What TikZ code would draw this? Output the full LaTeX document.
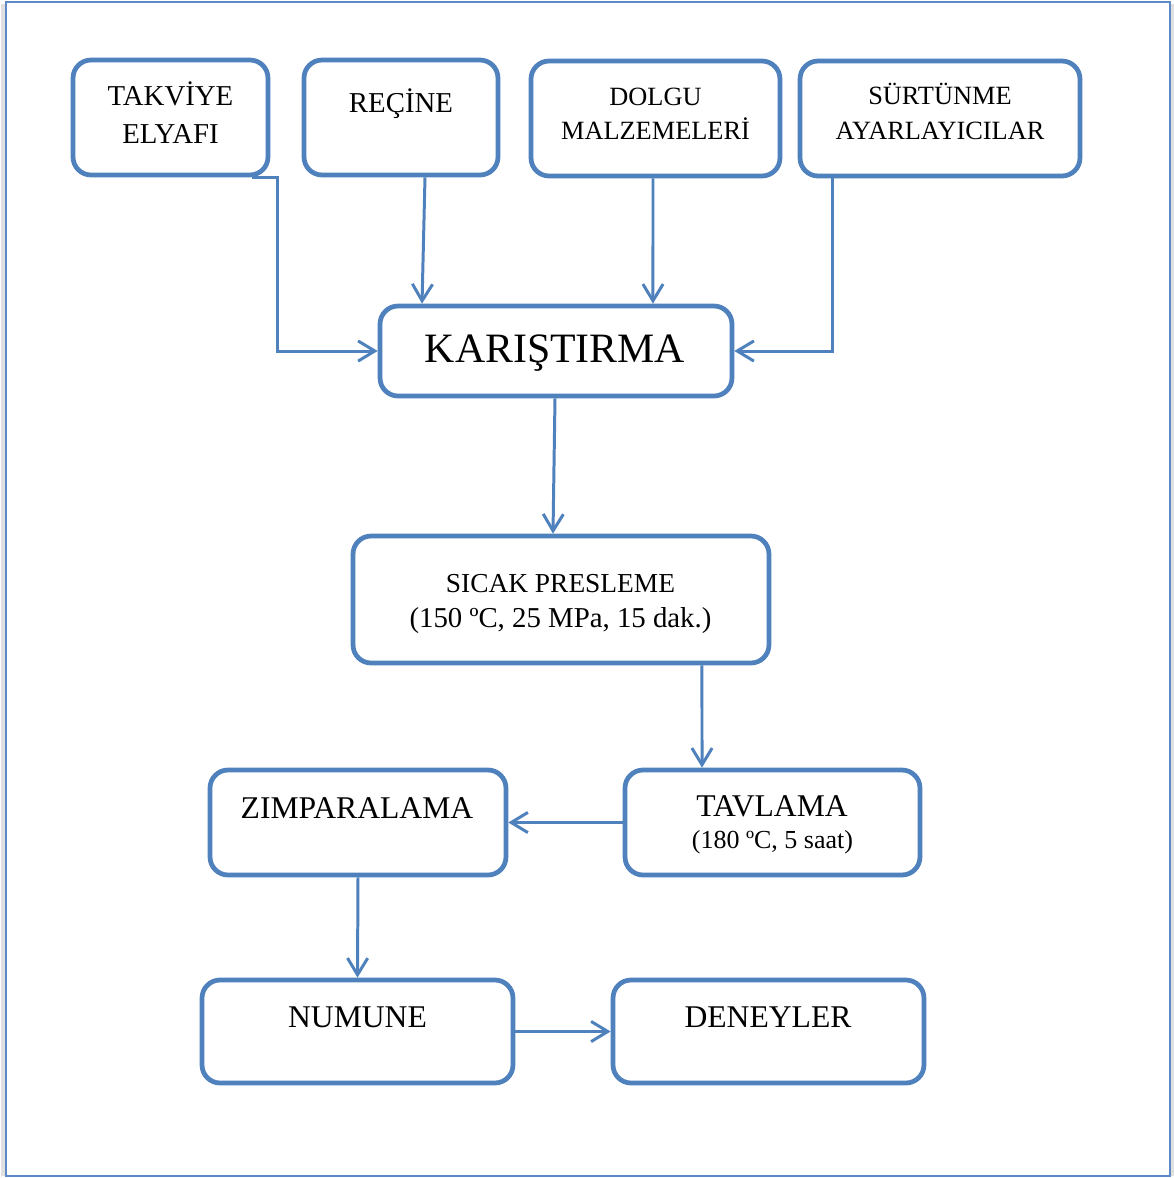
\documentclass[tikz,border=0pt]{standalone}
\usepackage{fontspec}
\setmainfont{Liberation Serif}
\usetikzlibrary{arrows.meta}
\definecolor{ofblue}{HTML}{4F81BD}
\definecolor{frameblue}{HTML}{5B8AC6}
\tikzset{
  procbox/.style={draw=ofblue, line width=2.7pt, rounded corners=0.36cm, fill=white, inner sep=0pt},
  conn/.style={draw=ofblue, line width=1.7pt, -{Straight Barb[length=9.5pt,width=11.5pt,line width=1.7pt]}},
  lbl/.style={anchor=base, inner sep=0pt, text=black},
}
\begin{document}
\begin{tikzpicture}[x=0.02cm,y=-0.02cm]
\useasboundingbox (0,0) rectangle (1174,1178);
\fill[white] (0,0) rectangle (1174,1178);
% frame with faint shadow
\draw[black!12, line width=2.2pt] (3,4) -- (3,1176);
\draw[black!12, line width=2.2pt] (1172,4) -- (1172,1176);
\draw[frameblue, line width=1.2pt] (6,2) rectangle (1170,1176);

% boxes
\node[procbox, minimum width=3.9cm,  minimum height=2.3cm] (A) at (170.5,117.5) {};
\node[procbox, minimum width=3.88cm, minimum height=2.3cm] (B) at (401,117.5) {};
\node[procbox, minimum width=4.98cm, minimum height=2.3cm] (C) at (655.5,118.5) {};
\node[procbox, minimum width=5.6cm,  minimum height=2.3cm] (D) at (940,118.5) {};
\node[procbox, minimum width=7.04cm, minimum height=1.8cm] (K) at (556,351) {};
\node[procbox, minimum width=8.32cm, minimum height=2.54cm] (S) at (561,599.5) {};
\node[procbox, minimum width=5.92cm, minimum height=2.1cm] (Z) at (358,822.5) {};
\node[procbox, minimum width=5.9cm,  minimum height=2.1cm] (T) at (772.5,822.5) {};
\node[procbox, minimum width=6.22cm, minimum height=2.06cm] (N) at (357.5,1031.5) {};
\node[procbox, minimum width=6.22cm, minimum height=2.06cm] (E) at (768.5,1031.5) {};

% texts
\node[lbl, font=\fontsize{16.4}{19}\selectfont] (tA1) at (170.5,105) {TAKVİYE};
\node[lbl, font=\fontsize{16.4}{19}\selectfont] (tA2) at (170.5,143) {ELYAFI};
\node[lbl, font=\fontsize{16.4}{19}\selectfont] (tB1) at (401,112) {REÇİNE};
\node[lbl, font=\fontsize{15}{18}\selectfont] (tC1) at (655.5,105) {DOLGU};
\node[lbl, font=\fontsize{15}{18}\selectfont] (tC2) at (655.5,139) {MALZEMELERİ};
\node[lbl, font=\fontsize{15}{18}\selectfont] (tD1) at (940,104) {SÜRTÜNME};
\node[lbl, font=\fontsize{15}{18}\selectfont] (tD2) at (940,139) {AYARLAYICILAR};
\node[lbl, font=\fontsize{23.8}{28}\selectfont] (tK1) at (555,362) {KARIŞTIRMA};
\node[lbl, font=\fontsize{15.6}{19}\selectfont] (tS1) at (560.5,592) {SICAK PRESLEME};
\node[lbl, font=\fontsize{16.4}{19}\selectfont] (tS2) at (560.5,627) {(150 ºC, 25 MPa, 15 dak.)};
\node[lbl, font=\fontsize{18}{21}\selectfont] (tZ1) at (357,818) {ZIMPARALAMA};
\node[lbl, font=\fontsize{18}{21}\selectfont] (tT1) at (772,816) {TAVLAMA};
\node[lbl, font=\fontsize{14.8}{18}\selectfont] (tT2) at (772.5,848) {(180 ºC, 5 saat)};
\node[lbl, font=\fontsize{18}{21}\selectfont] (tN1) at (357.5,1027) {NUMUNE};
\node[lbl, font=\fontsize{18}{21}\selectfont] (tE1) at (768,1027) {DENEYLER};

% connectors
\draw[conn] ([xshift=-0.36cm]A.south east) -- ([xshift=0.14cm]A.south east) |- (K.west);
\draw[conn] ([xshift=0.48cm]B.south) -- ([xshift=-2.68cm]K.north);
\draw[conn] ([xshift=-0.05cm]C.south) -- ([xshift=1.94cm]K.north);
\draw[conn] ([xshift=-2.16cm]D.south) |- (K.east);
\draw[conn] ([xshift=-0.02cm]K.south) -- ([xshift=-0.16cm]S.north);
\draw[conn] ([xshift=2.82cm]S.south) -- ([xshift=-1.41cm]T.north);
\draw[conn] (T.west) -- (Z.east);
\draw[conn] (Z.south) -- (N.north);
\draw[conn] (N.east) -- (E.west);
\end{tikzpicture}
\end{document}
